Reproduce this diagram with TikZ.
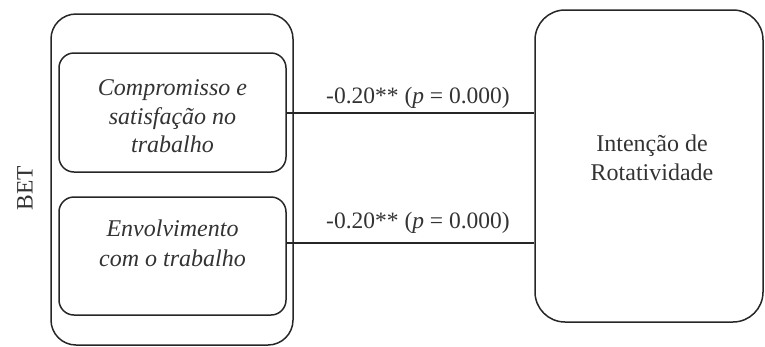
\documentclass[tikz,border=0pt]{standalone}
\usepackage{fontspec}
\setmainfont{Liberation Serif}
\begin{document}
\begin{tikzpicture}[x=1pt,y=-1pt,
  boxline/.style={draw=black!85, line width=1.5pt},
  lbl/.style={font=\fontsize{23.5}{28}\selectfont, text=black!80, align=center, inner sep=0pt},
  conn/.style={draw=black!85, line width=2.2pt}]
\useasboundingbox (0,0) rectangle (765,346);
\node[boxline, rounded corners=25pt, minimum width=242pt, minimum height=331pt, inner sep=0pt] (outer) at (172,179.5) {};
\node[boxline, rounded corners=15pt, minimum width=227pt, minimum height=119pt, inner sep=0pt] (top) at (172.5,112.5) {};
\node[boxline, rounded corners=15pt, minimum width=227pt, minimum height=118pt, inner sep=0pt] (bot) at (172.5,256) {};
\node[boxline, rounded corners=30pt, minimum width=228pt, minimum height=312pt, inner sep=0pt] (right) at (649,166) {};
\node[lbl, rotate=90] (bet) at (25,188) {BET};
\node[lbl, font=\fontsize{24}{28.5}\selectfont\itshape] (toptext) at (172.5,116.5) {Compromisso e\\satisfação no\\trabalho};
\node[lbl, font=\fontsize{24}{30}\selectfont\itshape] (bottext) at (172.5,243) {Envolvimento\\com o trabalho};
\node[lbl, font=\fontsize{24}{29}\selectfont] (righttext) at (652,157.5) {Intenção de\\Rotatividade};
\coordinate (c1) at (top.east |- 0,113);
\coordinate (c2) at (bot.east |- 0,243);
\draw[conn] (c1) -- (right.west |- c1);
\draw[conn] (c2) -- (right.west |- c2);
\node[lbl] (l1) at (418,98) {-0.20** (\textit{p} = 0.000)};
\node[lbl] (l2) at (418,223) {-0.20** (\textit{p} = 0.000)};
\end{tikzpicture}
\end{document}
